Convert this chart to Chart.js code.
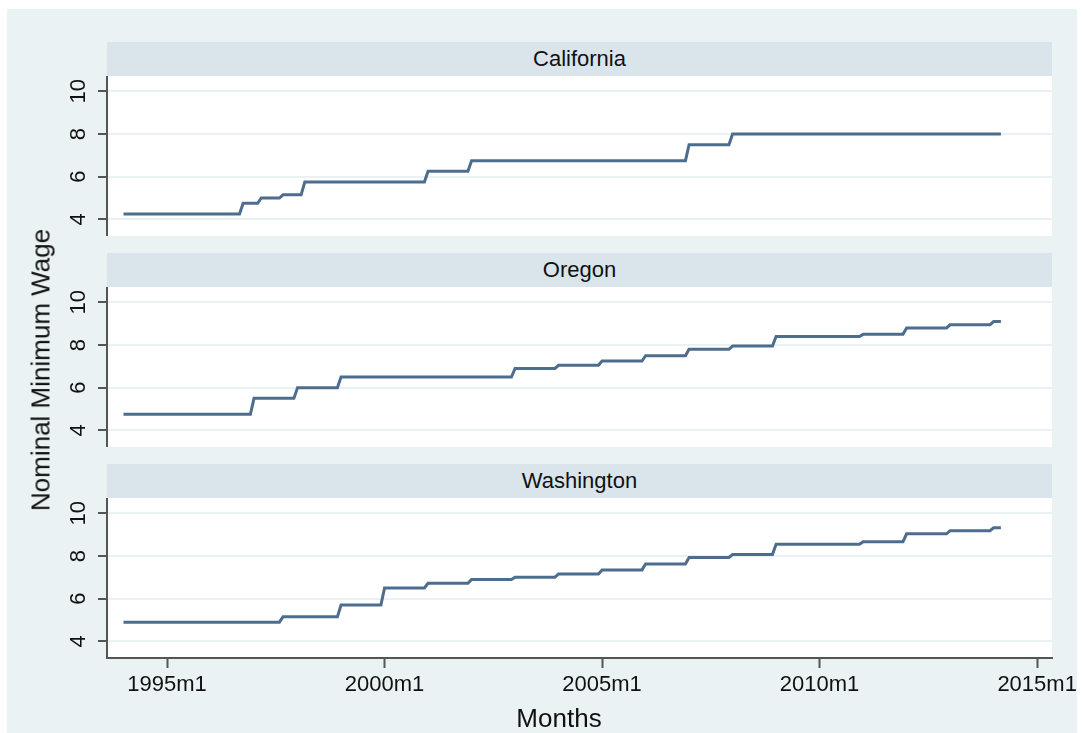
<!DOCTYPE html>
<html>
<head>
<meta charset="utf-8">
<script src="https://cdn.jsdelivr.net/npm/chart.js@4.4.0/dist/chart.umd.min.js"></script>
<style>
  body { margin: 0; width: 1084px; height: 733px; background: #fff; position: relative; overflow: hidden; font-family: 'Liberation Sans', Arial, sans-serif; }
  #frame { position: absolute; left: 7px; top: 9px; width: 1070px; height: 724px; background: #eaf2f3; }
  .strip { position: absolute; left: 107px; width: 945px; height: 34px; background: #d9e5eb; color: #111; font-size: 22px; line-height: 34px; text-align: center; }
  canvas { position: absolute; left: 0; }
  #ytitle { position: absolute; left: 41px; top: 370px; transform: translate(-50%, -50%) rotate(-90deg); font-size: 26px; color: #111; white-space: nowrap; }
  #xtitle { position: absolute; left: 559px; top: 718px; transform: translate(-50%, -50%); font-size: 26px; color: #111; white-space: nowrap; }
</style>
</head>
<body>
<div id="frame"></div>
<div class="strip" style="top:42px">California</div>
<div class="strip" style="top:253px">Oregon</div>
<div class="strip" style="top:464px">Washington</div>
<canvas id="ca" width="1084" height="160" style="top:76px"></canvas>
<canvas id="or" width="1084" height="160" style="top:287px"></canvas>
<canvas id="wa" width="1084" height="235" style="top:498px"></canvas>
<div id="ytitle">Nominal Minimum Wage</div>
<div id="xtitle">Months</div>
<script>
'use strict';

// month a new wage level starts, and the level (dollars per hour)
const caStart = ['1994m1', '1996m10', '1997m3', '1997m9', '1998m3', '2001m1', '2002m1', '2007m1', '2008m1'];
const caWage = [4.25, 4.75, 5.00, 5.15, 5.75, 6.25, 6.75, 7.50, 8.00];

const orStart = ['1994m1', '1997m1', '1998m1', '1999m1', '2003m1', '2004m1', '2005m1', '2006m1', '2007m1', '2008m1', '2009m1', '2011m1', '2012m1', '2013m1', '2014m1'];
const orWage = [4.75, 5.50, 6.00, 6.50, 6.90, 7.05, 7.25, 7.50, 7.80, 7.95, 8.40, 8.50, 8.80, 8.95, 9.10];

const waStart = ['1994m1', '1997m9', '1999m1', '2000m1', '2001m1', '2002m1', '2003m1', '2004m1', '2005m1', '2006m1', '2007m1', '2008m1', '2009m1', '2011m1', '2012m1', '2013m1', '2014m1'];
const waWage = [4.90, 5.15, 5.70, 6.50, 6.72, 6.90, 7.01, 7.16, 7.35, 7.63, 7.93, 8.07, 8.55, 8.67, 9.04, 9.19, 9.32];

const lastMonth = '2014m3';
const xTickLabels = ['1995m1', '2000m1', '2005m1', '2010m1', '2015m1'];
const yTicks = [4, 6, 8, 10];

const lineColor = '#4d6d8e';
const axisColor = '#555';
const gridColor = '#eaf1f3';

// stata style monthly date: months since 1960m1
function toMonth(s) {
  let parts = s.split('m');
  return (parseInt(parts[0]) - 1960) * 12 + parseInt(parts[1]) - 1;
}
function monthLabel(v) {
  return (1960 + Math.floor(v / 12)) + 'm' + (v % 12 + 1);
}

// each level runs from its start month to the month before the next change
function buildPoints(starts, wages) {
  let pts = [];
  for (let i = 0; i < starts.length; i++) {
    let end = i < starts.length - 1 ? toMonth(starts[i + 1]) - 1 : toMonth(lastMonth);
    pts.push({ x: toMonth(starts[i]), y: wages[i] });
    pts.push({ x: end, y: wages[i] });
  }
  return pts;
}

const plotBg = {
  id: 'plotBg',
  beforeDraw(chart) {
    let a = chart.chartArea;
    chart.ctx.save();
    chart.ctx.fillStyle = '#fff';
    chart.ctx.fillRect(a.left, a.top, a.right - a.left, a.bottom - a.top);
    chart.ctx.restore();
  }
};

// y tick labels are written sideways in the original
const sideLabels = {
  id: 'sideLabels',
  afterDraw(chart) {
    let ys = chart.scales.y;
    let ctx = chart.ctx;
    ctx.save();
    ctx.font = '22px "Liberation Sans", Arial, sans-serif';
    ctx.fillStyle = '#111';
    ctx.textAlign = 'center';
    ctx.textBaseline = 'middle';
    ys.ticks.forEach(function (t) {
      ctx.save();
      ctx.translate(79, ys.getPixelForValue(t.value));
      ctx.rotate(-Math.PI / 2);
      ctx.fillText(String(t.value), 0, 0);
      ctx.restore();
    });
    ctx.restore();
  }
};

function makePanel(id, starts, wages, showX) {
  let ctx = document.getElementById(id).getContext('2d');
  return new Chart(ctx, {
    type: 'line',
    data: {
      datasets: [{
        data: buildPoints(starts, wages),
        borderColor: lineColor,
        borderWidth: 3,
        pointRadius: 0,
        tension: 0
      }]
    },
    options: {
      responsive: false,
      animation: false,
      devicePixelRatio: 1,
      layout: { padding: { left: 0, right: 32, top: 0, bottom: 0 } },
      plugins: { legend: { display: false }, tooltip: { enabled: false } },
      scales: {
        x: {
          type: 'linear',
          display: showX,
          min: 403.45,
          max: 664.1,
          afterBuildTicks: function (scale) {
            scale.ticks = xTickLabels.map(function (s) { return { value: toMonth(s) }; });
          },
          afterFit: function (scale) { scale.height = showX ? 75 : 0; },
          border: { display: true, color: axisColor, width: 2 },
          grid: { drawOnChartArea: false, tickLength: 10, tickColor: axisColor, tickWidth: 2 },
          ticks: {
            padding: 4,
            maxRotation: 0,
            color: '#111',
            font: { family: "'Liberation Sans', Arial, sans-serif", size: 22 },
            callback: function (v) { return monthLabel(v); }
          }
        },
        y: {
          min: 3.22,
          max: 10.72,
          afterBuildTicks: function (scale) {
            scale.ticks = yTicks.map(function (v) { return { value: v }; });
          },
          afterFit: function (scale) { scale.width = 107; },
          border: { display: true, color: axisColor, width: 2 },
          grid: { color: gridColor, lineWidth: 2, tickLength: 9, tickColor: axisColor, tickWidth: 2 },
          ticks: { display: false }
        }
      }
    },
    plugins: [plotBg, sideLabels]
  });
}

makePanel('ca', caStart, caWage, false);
makePanel('or', orStart, orWage, false);
makePanel('wa', waStart, waWage, true);
</script>
</body>
</html>
